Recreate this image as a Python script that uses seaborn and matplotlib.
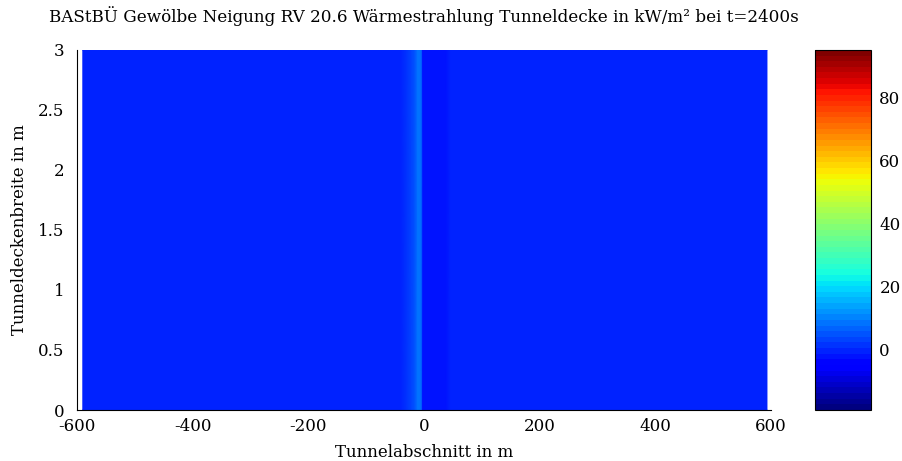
import numpy as np
import matplotlib
matplotlib.use("Agg")
import matplotlib.pyplot as plt
import seaborn as sns

# ---- data ----
x_pos = [-590, -40, -30, -22, -16, -11, -7, -4, -2, 2, 10, 20, 30, 38, 46, 60, 593]
profile = [0.0, 0.3, 1.5, 3.5, 5.5, 8.0, 9.0, 7.5, -2.0, -2.6, -2.6, -2.4, -2.0, -1.4, -0.8, -0.3, -0.3]
y_pos = [0.0, 3.0]
x_ticks = [-600, -400, -200, 0, 200, 400, 600]
y_ticks = [0, 0.5, 1, 1.5, 2, 2.5, 3]
y_ticklabels = ["0", "0.5", "1", "1.5", "2", "2.5", "3"]
cbar_ticks = [0, 20, 40, 60, 80]
vmin, vmax = -19.2, 95.0

title = "BAStBÜ Gewölbe Neigung RV 20.6 Wärmestrahlung Tunneldecke in kW/m² bei t=2400s"
xlabel = "Tunnelabschnitt in m"
ylabel = "Tunneldeckenbreite in m"

sns.set_style("white")
plt.rcParams["font.family"] = ["DejaVu Serif"]
plt.rcParams["font.size"] = 12
plt.rcParams["text.color"] = "black"
plt.rcParams["axes.labelcolor"] = "black"

Z = np.tile(np.array(profile), (len(y_pos), 1))
X, Y = np.meshgrid(x_pos, y_pos)

fig = plt.figure(figsize=(9.02, 4.61), dpi=100)
ax = fig.add_axes([77 / 902, 1 - 410 / 461, (771 - 77) / 902, 360 / 461])
cax = fig.add_axes([815 / 902, 1 - 410 / 461, 56 / 902, 360 / 461])

cmap = plt.get_cmap("jet", 64)
mesh = ax.pcolormesh(X, Y, Z, cmap=cmap, vmin=vmin, vmax=vmax, shading="gouraud")

ax.set_xlim(-600, 600)
ax.set_ylim(0, 3)
ax.set_xticks(x_ticks)
ax.set_xticklabels([str(t) for t in x_ticks])
ax.set_yticks(y_ticks)
ax.set_yticklabels(y_ticklabels)
ax.tick_params(direction="in", length=5, width=0.8, colors="black", labelsize=12)
ax.tick_params(axis="y", pad=9)
ax.tick_params(axis="x", pad=6)
for s in ["top", "right"]:
    ax.spines[s].set_visible(False)
for s in ["left", "bottom"]:
    ax.spines[s].set_color("black")
    ax.spines[s].set_linewidth(0.8)
ax.set_xlabel(xlabel, fontsize=12, labelpad=6, color="black")
ax.set_ylabel(ylabel, fontsize=12, labelpad=7, color="black")
ax.set_title(title, fontsize=12.1, pad=20, color="black")

cb = fig.colorbar(mesh, cax=cax)
cb.set_ticks(cbar_ticks)
cb.outline.set_edgecolor("black")
cb.outline.set_linewidth(0.8)
cax.tick_params(direction="in", length=5, width=0.8, left=True, right=True, labelsize=12, colors="black", pad=6)

fig.savefig("out.png", dpi=100)
